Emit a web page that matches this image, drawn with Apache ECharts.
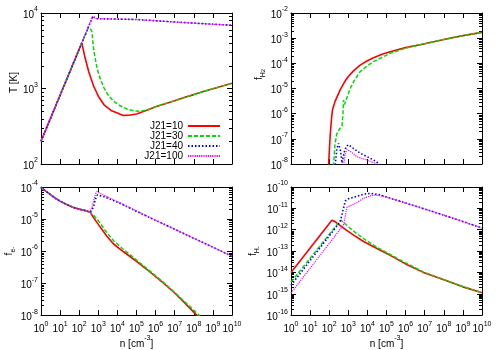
<!DOCTYPE html>
<html><head><meta charset="utf-8">
<script src="https://cdn.jsdelivr.net/npm/echarts@6/dist/echarts.min.js"></script>
<style>html,body{margin:0;padding:0;background:#fff}#c{width:500px;height:350px}</style>
</head><body><div id="c"></div>
<script>
const seriesNames = ['J21=10', 'J21=30', 'J21=40', 'J21=100'];

// Panel 1: temperature T [K] vs n
const tN10  = [1, 138, 166, 200, 251, 316, 417, 562, 741, 1000, 1413, 1995, 3162, 5012, 1e4, 2e4, 3.98e4, 1e5, 3.16e5, 1e6, 3.16e6, 1e7, 3.16e7, 1e8, 3.16e8, 1e9, 3.16e9, 1e10];
const tV10  = [200, 4030, 3230, 2590, 2080, 1670, 1360, 1086, 933, 791, 693, 608, 555, 506, 472, 440, 442, 460, 510, 575, 630, 690, 760, 830, 910, 990, 1080, 1170];
const tN30  = [1, 309, 398, 468, 525, 603, 708, 891, 1259, 1995, 3162, 6310, 1.41e4, 3.16e4, 7.08e4, 1.58e5, 3.98e5, 1e6, 3.16e6, 1e7, 3.16e7, 1e8, 3.16e8, 1e9, 3.16e9, 1e10];
const tV30  = [200, 6500, 6100, 5600, 4000, 3000, 2400, 1800, 1350, 1020, 830, 680, 590, 535, 507, 500, 520, 575, 630, 690, 760, 830, 910, 990, 1080, 1170];
const tN40  = [1, 525, 600, 708, 1000, 3162, 1e5, 1e6, 1e7, 1e8, 1e9, 1e10];
const tV40  = [200, 9100, 8900, 8500, 8400, 8350, 8200, 7900, 7600, 7350, 7100, 6900];
const tN100 = [1, 501, 589, 708, 1000, 3162, 1e5, 1e6, 1e7, 1e8, 1e9, 1e10];
const tV100 = [200, 9000, 8900, 8450, 8400, 8350, 8200, 7900, 7600, 7350, 7100, 6900];

// Panel 2: H2 fraction
const h2N10  = [79, 93, 112, 132, 148, 200, 380, 631, 1000, 1862, 3981, 1e4, 2.09e4, 6.31e4, 1.55e5, 1e6, 1e7, 1e8, 1e9, 1e10];
const h2V10  = [3e-10, 1e-8, 1.3e-7, 6.3e-7, 1.4e-6, 3.0e-6, 9e-6, 1.8e-5, 3.0e-5, 5.0e-5, 8.3e-5, 1.26e-4, 1.66e-4, 2.34e-4, 2.9e-4, 4.2e-4, 6.0e-4, 8.9e-4, 1.26e-3, 1.7e-3];
const h2N30  = [158, 170, 200, 251, 355, 468, 525, 562, 631, 708, 1259, 1995, 4169, 1e4, 2.09e4, 6.31e4, 1.55e5, 3.98e5, 1e6, 1e7, 1e8, 1e9, 1e10];
const h2V30  = [3e-10, 1e-8, 6e-8, 1.6e-7, 2.5e-7, 3.2e-7, 1e-6, 3.5e-6, 2.3e-6, 2.5e-6, 1e-5, 2e-5, 4.7e-5, 8e-5, 1.17e-4, 1.78e-4, 2.5e-4, 3.16e-4, 4.0e-4, 6.0e-4, 8.9e-4, 1.26e-3, 1.7e-3];
const h2N40  = [170, 209, 251, 309, 398, 468, 525, 631, 794, 1023, 1995, 4169, 2.09e4, 3.8e4, 1e5];
const h2V40  = [1e-9, 1e-8, 4e-8, 6.6e-8, 3.2e-8, 1.1e-8, 1.3e-8, 3.2e-8, 5e-8, 5.8e-8, 4e-8, 2.7e-8, 1.45e-8, 1.07e-8, 4e-9];
const h2N100 = [501, 603, 708, 851, 1585, 2818, 9333, 2.51e4, 1e5];
const h2V100 = [1e-9, 1.26e-8, 2.8e-8, 3.8e-8, 2.8e-8, 1.95e-8, 1.45e-8, 1.07e-8, 4e-9];

// Panel 3: electron fraction
const eN10  = [1, 1.78, 3.16, 5.62, 10, 22.4, 50, 100, 251, 380, 562, 794, 1259, 2818, 6310, 2.09e4, 1e5, 3.16e5, 2.51e6, 1e7, 3.16e7, 1.41e8, 3.16e8];
const eV10  = [9.5e-5, 7.4e-5, 5.75e-5, 4.47e-5, 3.63e-5, 2.82e-5, 2.29e-5, 2.04e-5, 1.78e-5, 1.62e-5, 1.12e-5, 8.3e-6, 5.6e-6, 2.9e-6, 1.66e-6, 9.5e-7, 4.8e-7, 2.8e-7, 1.02e-7, 4.9e-8, 2.5e-8, 1e-8, 6.3e-9];
const eN30  = [1, 1.78, 3.16, 5.62, 10, 22.4, 50, 100, 251, 380, 562, 794, 1259, 2818, 6310, 2.09e4, 1e5, 3.16e5, 2.51e6, 1e7, 3.16e7, 1.86e8, 3.16e8];
const eV30  = [9.5e-5, 7.4e-5, 5.75e-5, 4.47e-5, 3.63e-5, 2.82e-5, 2.29e-5, 2.04e-5, 1.78e-5, 1.62e-5, 1.32e-5, 1.05e-5, 7.4e-6, 3.7e-6, 2.1e-6, 1.12e-6, 5.25e-7, 3.0e-7, 1.07e-7, 5.1e-8, 2.7e-8, 1e-8, 7.4e-9];
const eN40  = [1, 1.78, 3.16, 5.62, 10, 22.4, 50, 100, 251, 380, 468, 562, 708, 891, 1023, 1995, 3981, 1.15e4, 1e5, 1e6, 1e7, 1e8, 1e9, 1e10];
const eV40  = [9.5e-5, 7.4e-5, 5.75e-5, 4.47e-5, 3.63e-5, 2.82e-5, 2.29e-5, 2.04e-5, 1.78e-5, 1.62e-5, 1.51e-5, 2.4e-5, 4.2e-5, 5.6e-5, 6.0e-5, 5.0e-5, 4.2e-5, 3.24e-5, 1.74e-5, 9.1e-6, 4.8e-6, 2.5e-6, 1.32e-6, 6.9e-7];
const eN100 = [1, 1.78, 3.16, 5.62, 10, 22.4, 50, 100, 251, 380, 447, 562, 708, 851, 1259, 3981, 1.15e4, 1e5, 1e6, 1e7, 1e8, 1e9, 1e10];
const eV100 = [9.5e-5, 7.4e-5, 5.75e-5, 4.47e-5, 3.63e-5, 2.82e-5, 2.29e-5, 2.04e-5, 1.78e-5, 1.62e-5, 1.66e-5, 3.5e-5, 6.0e-5, 7.2e-5, 6.3e-5, 4.5e-5, 3.4e-5, 1.78e-5, 9.1e-6, 4.8e-6, 2.5e-6, 1.32e-6, 6.9e-7];

// Panel 4: H- fraction
const hmN10  = [1, 138, 200, 398, 794, 1995, 6310, 3.16e4, 1.58e5, 1e6, 8.5e6, 1e8, 1e9, 1e10];
const hmV10  = [1e-14, 2.8e-12, 2.4e-12, 1.5e-12, 9.5e-13, 5.4e-13, 2.8e-13, 1.32e-13, 6.3e-14, 2.5e-14, 1e-14, 4.5e-15, 2.1e-15, 1.12e-15];
const hmN30  = [1, 398, 562, 794, 1995, 6310, 3.16e4, 1.58e5, 1e6, 8.5e6, 1e8, 1e9, 1e10];
const hmV30  = [3.5e-15, 2.8e-12, 2.2e-12, 1.66e-12, 8.3e-13, 3.8e-13, 1.5e-13, 6.9e-14, 2.8e-14, 1.05e-14, 4.6e-15, 2.2e-15, 1.12e-15];
const hmN40  = [1, 380, 562, 692, 1000, 2818, 6310, 1.41e4, 3.98e4, 1e5, 1e6, 1e7, 1e8, 1e9, 1e10];
const hmV40  = [2.5e-15, 2.4e-12, 1e-11, 2.2e-11, 2.8e-11, 3.7e-11, 4.6e-11, 5.0e-11, 4.4e-11, 3.4e-11, 1.78e-11, 9.3e-12, 4.8e-12, 2.4e-12, 1.2e-12];
const hmN100 = [1, 562, 851, 2818, 6310, 2.09e4, 6.31e4, 1.58e5, 1e6, 1e7, 1e8, 1e9, 1e10];
const hmV100 = [1.07e-15, 1.7e-12, 1.12e-11, 1.86e-11, 3.0e-11, 4.2e-11, 3.8e-11, 3.0e-11, 1.74e-11, 9.3e-12, 4.8e-12, 2.4e-12, 1.2e-12];

const yRanges = [[1e2, 1e4], [1e-8, 1e-2], [1e-8, 1e-4], [1e-16, 1e-10]];
// x range 10^0 .. 10^10 (min nudged by 1e-4 so the log scale picks one-decade steps)
const xRange = [1.0001, 1e10];

const FONT = '"Liberation Sans", Arial, Helvetica, sans-serif';
const colors = ['#ff0000', '#00dd00', '#0000ff', '#ff00ff'];
const lineStyles = [
  {width: 1.6, type: 'solid'},
  {width: 1.5, type: [4, 2]},
  {width: 1.6, type: [1.5, 2]},
  {width: 1.2, type: [1.2, 1]}
];

const grids = [
  {left: 41, top: 13, width: 191, height: 151},
  {left: 291, top: 13, width: 191, height: 151},
  {left: 41, top: 187, width: 191, height: 134},
  {left: 291, top: 187, width: 191, height: 134}
];

const supRich = {
  b: {fontSize: 10, fontFamily: FONT, color: '#000', lineHeight: 14, verticalAlign: 'bottom'},
  s: {fontSize: 7, fontFamily: FONT, color: '#000', lineHeight: 8, verticalAlign: 'top'}
};
function powLabel(v) {
  const e = Math.round(Math.log10(v));
  return '{b|10}{s|' + e + '}';
}

const yNames = [
  'T [K]',
  '{a|f}{b|H}{c|2}',
  '{a|f}{b|e}{d|-}',
  '{a|f}{b|H}{d|-}'
];
const nameRich = {
  a: {fontSize: 10, fontFamily: FONT, color: '#000', lineHeight: 16, verticalAlign: 'middle'},
  b: {fontSize: 7, fontFamily: FONT, color: '#000', lineHeight: 8, verticalAlign: 'bottom'},
  c: {fontSize: 6, fontFamily: FONT, color: '#000', lineHeight: 5, verticalAlign: 'bottom'},
  d: {fontSize: 6, fontFamily: FONT, color: '#000', lineHeight: 11, verticalAlign: 'bottom'},
  n: {fontSize: 10, fontFamily: FONT, color: '#000', lineHeight: 14, verticalAlign: 'bottom'},
  s: {fontSize: 7, fontFamily: FONT, color: '#000', lineHeight: 8, verticalAlign: 'top'}
};
const yNameGaps = [15, 23, 22, 30];
const yNamePads = [[0, 0, 0, 12], [0, 0, 0, 28], [0, 0, 0, 0], [0, 0, 0, 0]];

const xAxes = [], yAxes = [];
grids.forEach((g, i) => {
  const bottomRow = i >= 2;
  const axisLine = {show: true, lineStyle: {color: '#000', width: 1}};
  const tick = {show: true, inside: true, length: 5, lineStyle: {color: '#000'}};
  xAxes.push({
    gridIndex: i, type: 'log', logBase: 10, min: xRange[0], max: xRange[1], splitNumber: 10, position: 'bottom',
    axisLine, axisTick: tick, splitLine: {show: false}, minorTick: {show: false},
    axisLabel: {show: bottomRow, margin: 5, formatter: powLabel, rich: supRich},
    name: bottomRow ? '{n|n [cm}{s|-3}{n|]}' : '', nameLocation: 'middle', nameGap: 17,
    nameTextStyle: {rich: nameRich}
  });
  xAxes.push({
    gridIndex: i, type: 'log', logBase: 10, min: xRange[0], max: xRange[1], splitNumber: 10, position: 'top',
    axisLine, axisTick: tick, splitLine: {show: false}, axisLabel: {show: false}
  });
  yAxes.push({
    gridIndex: i, type: 'log', logBase: 10, min: yRanges[i][0], max: yRanges[i][1], position: 'left',
    axisLine, axisTick: tick, splitLine: {show: false},
    axisLabel: {show: true, margin: 3, formatter: powLabel, rich: supRich},
    name: yNames[i], nameLocation: 'middle', nameGap: yNameGaps[i], nameRotate: 90,
    nameTextStyle: {fontSize: 10, fontFamily: FONT, color: '#000', rich: nameRich, padding: yNamePads[i]}
  });
  yAxes.push({
    gridIndex: i, type: 'log', logBase: 10, min: yRanges[i][0], max: yRanges[i][1], position: 'right',
    axisLine, axisTick: tick, splitLine: {show: false}, axisLabel: {show: false}
  });
});

const panelData = [
  [[tN10, tV10], [tN30, tV30], [tN40, tV40], [tN100, tV100]],
  [[h2N10, h2V10], [h2N30, h2V30], [h2N40, h2V40], [h2N100, h2V100]],
  [[eN10, eV10], [eN30, eV30], [eN40, eV40], [eN100, eV100]],
  [[hmN10, hmV10], [hmN30, hmV30], [hmN40, hmV40], [hmN100, hmV100]]
];

const series = [];
panelData.forEach((panel, i) => {
  // minor log ticks on the y axes (2..9 in each decade)
  const lo = Math.round(Math.log10(yRanges[i][0])), hi = Math.round(Math.log10(yRanges[i][1]));
  const minor = [];
  for (let k = lo; k < hi; k++) for (let m = 2; m <= 9; m++) minor.push([10, m * Math.pow(10, k)]);
  series.push({
    type: 'custom', xAxisIndex: 2 * i, yAxisIndex: 2 * i, silent: true, clip: false, z: 1,
    data: minor,
    renderItem: (params, api) => {
      const cs = params.coordSys;
      const p = api.coord([10, api.value(1)]);
      const y = Math.round(p[1]) + 0.5;
      return {type: 'group', children: [
        {type: 'line', shape: {x1: cs.x, y1: y, x2: cs.x + 3, y2: y}, style: {stroke: '#000', lineWidth: 1}},
        {type: 'line', shape: {x1: cs.x + cs.width - 3, y1: y, x2: cs.x + cs.width, y2: y}, style: {stroke: '#000', lineWidth: 1}}
      ]};
    }
  });
  panel.forEach((d, j) => {
    series.push({
      name: seriesNames[j], type: 'line', xAxisIndex: 2 * i, yAxisIndex: 2 * i,
      data: d[0].map((n, k) => [n, d[1][k]]),
      symbol: 'none', showSymbol: false, smooth: false, clip: true, z: 3,
      lineStyle: Object.assign({color: colors[j]}, lineStyles[j]),
      itemStyle: {color: colors[j]}
    });
  });
});

const chart = echarts.init(document.getElementById('c'), null, {renderer: 'canvas'});
chart.setOption({
  animation: false,
  backgroundColor: '#fff',
  textStyle: {fontFamily: FONT, color: '#000'},
  legend: {
    data: seriesNames, orient: 'vertical', right: 279, top: 121, align: 'right',
    itemWidth: 32, itemHeight: 10, itemGap: 0, padding: 0,
    itemStyle: {opacity: 0},
    textStyle: {fontSize: 10, fontFamily: FONT, color: '#000'},
    selectedMode: false
  },
  grid: grids,
  xAxis: xAxes,
  yAxis: yAxes,
  series
});
</script>
</body></html>
